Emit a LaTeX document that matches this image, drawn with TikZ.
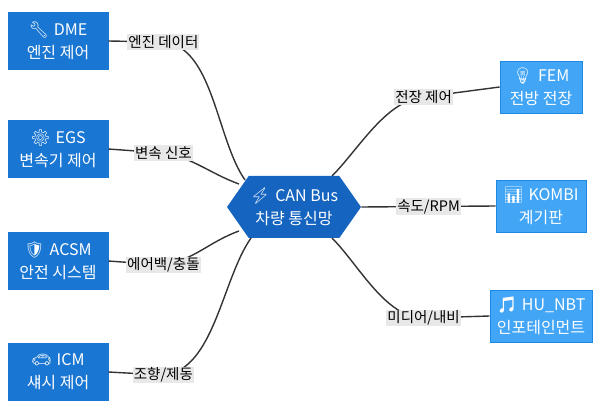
\documentclass[tikz,border=0pt]{standalone}
\usepackage{fontspec}
\setmainfont{Noto Sans CJK KR}
\newfontfamily\emo{Noto Emoji}
\usetikzlibrary{shapes.symbols}
\definecolor{hubblue}{HTML}{1565C0}
\definecolor{leftblue}{HTML}{1976D2}
\definecolor{rightblue}{HTML}{42A5F5}
\definecolor{rightline}{HTML}{1E88E5}
\definecolor{tagbg}{HTML}{E8E8E8}
\def\ico#1{{\emo #1}\hspace{5pt}}

\begin{document}
\begin{tikzpicture}[x=1pt,y=-1pt,thick,
    unit node/.style={draw=leftblue,fill=leftblue,text=white,minimum width=100pt,
        minimum height=57pt,align=center,inner xsep=2pt,font=\fontsize{16}{23}\selectfont},
    sub node/.style={draw=rightline,fill=rightblue,text=white,minimum height=52pt,
        align=center,inner xsep=2pt,font=\fontsize{16}{23}\selectfont},
    link/.style={draw=black!80,line width=1.4pt},
    tag/.style={fill=tagbg,inner sep=1pt,font=\fontsize{14.5}{16}\selectfont}]
  \useasboundingbox (0,0) rectangle (600,414);

  \node[signal,signal to=west and east,signal pointer angle=110,fill=hubblue,text=white,
        minimum width=134pt,minimum height=62pt,align=center,inner xsep=1pt,
        font=\fontsize{16}{23}\selectfont] (hub) at (294,207)
        {\ico{⚡}CAN Bus\\차량 통신망};

  \node[unit node] (dme)  at (58,41)  {\ico{🔧}DME\\엔진 제어};
  \node[unit node] (egs)  at (58,149) {\ico{⚙}EGS\\변속기 제어};
  \node[unit node] (acsm) at (58,261) {\ico{🛡}ACSM\\안전 시스템};
  \node[unit node] (icm)  at (58,372) {\ico{🚗}ICM\\섀시 제어};

  \node[sub node,minimum width=82pt]  (fem)   at (541,87)  {\ico{💡}FEM\\전방 전장};
  \node[sub node,minimum width=90pt]  (kombi) at (541,206) {\ico{📊}KOMBI\\계기판};
  \node[sub node,minimum width=102pt] (hu)    at (541,316) {\ico{🎵}HU\_NBT\\인포테인먼트};

  % connectors
  \path[link] (dme.east)  -- ++(55,1) node[tag] {엔진 데이터} to[out=-5,in=125,looseness=0.8] (245,180);
  \path[link] (egs.east)  -- ++(55,4) node[tag] {변속 신호} to[out=-10,in=160] (239,184);
  \path[link] (acsm.east) -- ++(55,4) node[tag] {에어백/충돌} to[out=10,in=200] (239,231);
  \path[link] (icm.east)  -- ++(55,3) node[tag] {조향/제동} to[out=5,in=235,looseness=0.8] (251,238);
  \path[link] (fem.west)  -- ++(-76,10) node[tag] {전장 제어} to[out=185,in=45,looseness=0.8] (332,176);
  \path[link] (kombi.west) -- node[tag] {속도/RPM} (hub.east);
  \path[link] (hu.west)   -- ++(-66,2) node[tag] {미디어/내비} to[out=180,in=-45,looseness=0.8] (332,238);
\end{tikzpicture}
\end{document}
